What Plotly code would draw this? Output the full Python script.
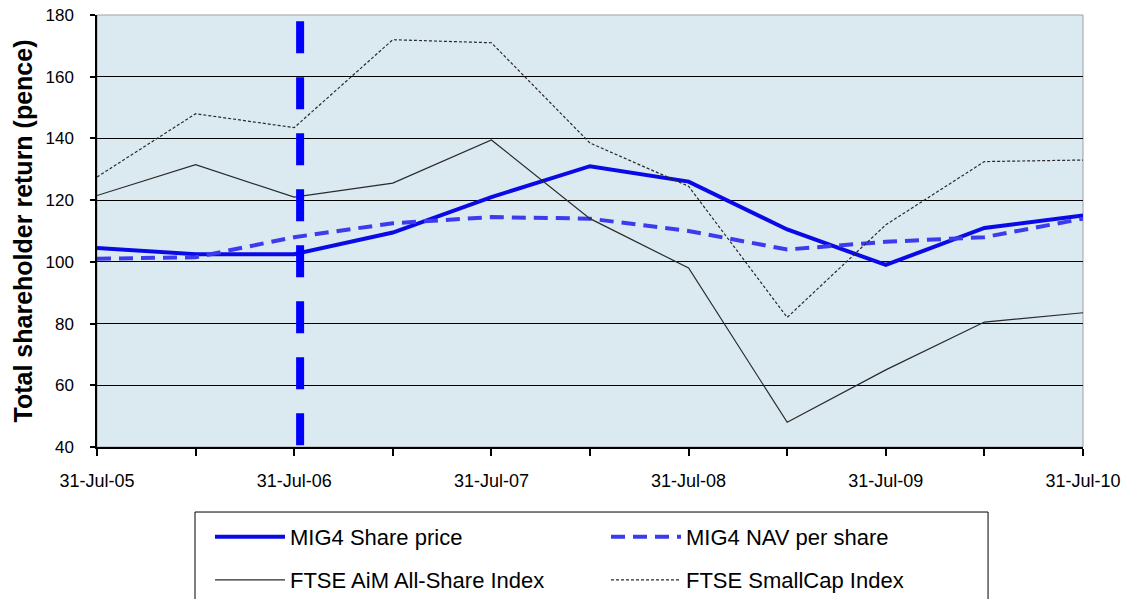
import plotly.graph_objects as go

dates = ["31-Jul-05", "31-Jan-06", "31-Jul-06", "31-Jan-07", "31-Jul-07", "31-Jan-08",
         "31-Jul-08", "31-Jan-09", "31-Jul-09", "31-Jan-10", "31-Jul-10"]
tick_labels = ["31-Jul-05", "", "31-Jul-06", "", "31-Jul-07", "", "31-Jul-08", "",
               "31-Jul-09", "", "31-Jul-10"]
share_price = [104.5, 102.5, 102.5, 109.5, 121, 131, 126, 110.5, 99, 111, 115]
nav_per_share = [101, 101.5, 108, 112.5, 114.5, 114, 110, 104, 106.5, 108, 114]
aim_index = [121.5, 131.5, 121, 125.5, 139.5, 114, 98, 48, 65, 80.5, 83.5]
smallcap_index = [127.5, 148, 143.5, 172, 171, 138.5, 124.5, 82, 112, 132.5, 133]
marker_date_pos = 2.06  # vertical marker just after 31-Jul-06

x = list(range(len(dates)))

fig = go.Figure()
fig.add_trace(go.Scatter(x=x, y=share_price, mode="lines", name="MIG4 Share price",
                         line=dict(color="#0A0AE6", width=4), legend="legend"))
fig.add_trace(go.Scatter(x=x, y=nav_per_share, mode="lines", name="MIG4 NAV per share",
                         line=dict(color="#3C3CEE", width=4, dash="14px,8px"), legend="legend"))
fig.add_trace(go.Scatter(x=x, y=aim_index, mode="lines", name="FTSE AiM All-Share Index",
                         line=dict(color="#2A2A2A", width=1.2), legend="legend2"))
fig.add_trace(go.Scatter(x=x, y=smallcap_index, mode="lines", name="FTSE SmallCap Index",
                         line=dict(color="#2A2A2A", width=1.2, dash="3px,2px"), legend="legend2"))

# plot-area frame (grey top/right)
fig.add_shape(type="rect", xref="paper", yref="paper", x0=0, x1=1, y0=0, y1=1,
              line=dict(color="#A0A0A0", width=1), layer="below")
# legend frame
fig.add_shape(type="rect", xref="paper", yref="paper", x0=0.0994, x1=0.9037, y0=-0.1505, y1=-0.37,
              line=dict(color="#000000", width=1), fillcolor="rgba(0,0,0,0)")
# vertical dashed marker
fig.add_shape(type="line", xref="x", yref="y", x0=marker_date_pos, x1=marker_date_pos,
              y0=40.6, y1=178, line=dict(color="#0000FF", width=8, dash="32px,24px"))

legend_common = dict(
    orientation="h", xanchor="left", yanchor="middle",
    borderwidth=0, bgcolor="rgba(255,255,255,0)",
    font=dict(size=22, color="#000000"),
    entrywidth=311, entrywidthmode="pixels", itemwidth=70,
    traceorder="normal",
)

fig.update_layout(
    width=1127, height=599,
    margin=dict(l=97, r=44, t=15, b=152, autoexpand=False),
    paper_bgcolor="white",
    plot_bgcolor="#DAEAF0",
    font=dict(family="Liberation Sans, Arial, sans-serif", color="#000000"),
    showlegend=True,
    legend=dict(x=0.1146, y=-0.2083, **legend_common),
    legend2=dict(x=0.1146, y=-0.3079, **legend_common),
)
fig.update_xaxes(
    range=[0, 10], tickmode="array", tickvals=x, ticktext=tick_labels,
    ticks="outside", ticklen=7, tickcolor="#000000", tickwidth=1.5,
    showline=True, linecolor="#000000", linewidth=1.5,
    showgrid=False, zeroline=False, automargin=False,
    tickfont=dict(size=18, color="#000000"), ticklabelstandoff=10,
)
fig.update_yaxes(
    range=[40, 180], tickmode="array", tickvals=[40, 60, 80, 100, 120, 140, 160, 180],
    ticks="outside", ticklen=5, tickcolor="#000000", tickwidth=1.5,
    showline=True, linecolor="#000000", linewidth=1.5,
    showgrid=True, gridcolor="#000000", gridwidth=1.2, zeroline=False, automargin=False,
    tickfont=dict(size=17, color="#000000"), ticklabelstandoff=13,
    title=dict(text="<b>Total shareholder return (pence)</b>",
               font=dict(size=25, color="#000000"), standoff=6),
)

fig.write_html("out.html", config={"displayModeBar": False},
               post_script="document.body.style.margin='0';")
